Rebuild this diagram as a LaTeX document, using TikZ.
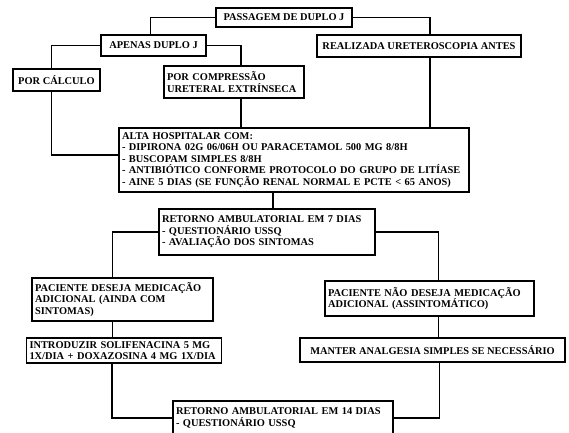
\documentclass[tikz,border=0pt]{standalone}
\usepackage{fontspec}
\setmainfont{Liberation Serif}
\begin{document}
\begin{tikzpicture}[x=1pt,y=-1pt,
    caixa/.style={draw, line width=1.3pt, font=\fontsize{10.4}{11.4}\selectfont\bfseries,
      inner xsep=3pt, inner ysep=0pt},
    liga/.style={line width=1.1pt}]
  \clip (0,0) rectangle (569,432);

  % caixas
  \node[caixa, minimum width=136pt, minimum height=19pt] (passagem) at (284,17.5) {PASSAGEM DE DUPLO J};
  \node[caixa, minimum width=105pt, minimum height=21pt] (apenas) at (153.5,45.5) {APENAS DUPLO J};
  \node[caixa, minimum width=204pt, minimum height=22pt] (realizada) at (419,46) {REALIZADA URETEROSCOPIA ANTES};
  \node[caixa, minimum width=87pt, minimum height=22pt] (calculo) at (56.5,80) {POR CÁLCULO};
  \node[caixa, text width=134pt, minimum height=32pt, align=left] (compressao) at (234,82)
    {POR COMPRESSÃO\\URETERAL EXTRÍNSECA};
  \node[caixa, text width=344pt, minimum height=64pt, align=left] (alta) at (294,160)
    {ALTA HOSPITALAR COM:\\
     - DIPIRONA 02G 06/06H OU PARACETAMOL 500 MG 8/8H\\
     - BUSCOPAM SIMPLES 8/8H\\
     - ANTIBIÓTICO CONFORME PROTOCOLO DO GRUPO DE LITÍASE\\
     - AINE 5 DIAS (SE FUNÇÃO RENAL NORMAL E PCTE < 65 ANOS)};
  \node[caixa, text width=210pt, minimum height=46pt, align=left] (ret7) at (267,232)
    {RETORNO AMBULATORIAL EM 7 DIAS\\- QUESTIONÁRIO USSQ\\- AVALIAÇÃO DOS SINTOMAS};
  \node[caixa, text width=175pt, minimum height=43pt, align=left] (deseja) at (122.5,299.5)
    {PACIENTE DESEJA MEDICAÇÃO\\ADICIONAL (AINDA COM\\SINTOMAS)};
  \node[caixa, text width=203pt, minimum height=35pt, align=left] (naodeseja) at (429.5,298.5)
    {PACIENTE NÃO DESEJA MEDICAÇÃO\\ADICIONAL (ASSINTOMÁTICO)};
  \node[caixa, text width=189pt, minimum height=25pt, align=left] (introduzir) at (124,350.5)
    {INTRODUZIR SOLIFENACINA 5 MG\\1X/DIA + DOXAZOSINA 4 MG 1X/DIA};
  \node[caixa, minimum width=265pt, minimum height=24pt] (manter) at (432.5,350)
    {MANTER ANALGESIA SIMPLES SE NECESSÁRIO};
  \node[caixa, text width=214pt, minimum height=34pt, align=left] (ret14) at (283,418)
    {RETORNO AMBULATORIAL EM 14 DIAS\\- QUESTIONÁRIO USSQ};

  % pontos de saida das ligacoes
  \coordinate (apN) at ([xshift=-3pt]apenas.north);
  \coordinate (reN) at ([xshift=11pt]realizada.north);
  \coordinate (reS) at ([xshift=11pt]realizada.south);
  \coordinate (caN) at ([xshift=-5pt]calculo.north);
  \coordinate (caS) at ([xshift=-5pt]calculo.south);
  \coordinate (coN) at ([xshift=7pt]compressao.north);
  \coordinate (coS) at ([xshift=7pt]compressao.south);
  \coordinate (alW) at ([yshift=5pt]alta.west);
  \coordinate (r7N) at ([xshift=6pt]ret7.north);
  \coordinate (deN) at ([xshift=-10pt]deseja.north);
  \coordinate (deS) at ([xshift=-10pt]deseja.south);
  \coordinate (ndN) at ([xshift=9pt]naodeseja.north);
  \coordinate (ndS) at ([xshift=9pt]naodeseja.south);
  \coordinate (inS) at ([xshift=-12pt]introduzir.south);
  \coordinate (maS) at ([xshift=7pt]manter.south);

  % ligacoes
  \draw[liga] (passagem.west) -| (apN);
  \draw[liga] (passagem.east) -| (reN);
  \draw[liga] (apenas.west) -| (caN);
  \draw[liga] (apenas.east) -| (coN);
  \draw[liga] (caS) |- (alW);
  \draw[liga] (coS) -- (coS |- alta.north);
  \draw[liga] (reS) -- (reS |- alta.north);
  \draw[liga] (r7N |- alta.south) -- (r7N);
  \draw[liga] (ret7.west) -| (deN);
  \draw[liga] (ret7.east) -| (ndN);
  \draw[liga] (deS) -- (deS |- introduzir.north);
  \draw[liga] (ndS) -- (ndS |- manter.north);
  \draw[liga] (inS) |- (ret14.west);
  \draw[liga] (maS) |- (ret14.east);
\end{tikzpicture}
\end{document}
